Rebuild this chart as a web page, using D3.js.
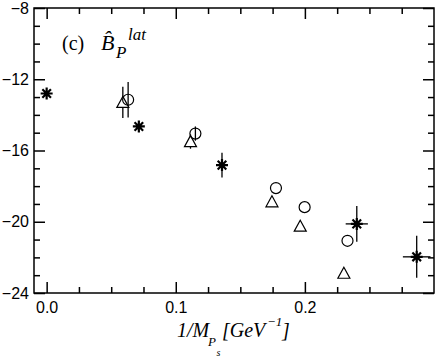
<!DOCTYPE html>
<html>
<head>
<meta charset="utf-8">
<script src="https://cdn.jsdelivr.net/npm/d3@7"></script>
<style>
  body { margin: 0; background: #fff; }
  svg { display: block; }
  .tick text { font-family: "Liberation Sans", Arial, sans-serif; font-size: 16px; fill: #000; }
  .serif { font-family: "Liberation Serif", "Times New Roman", serif; }
</style>
</head>
<body>
<div id="chart"></div>
<script>
// star series (filled asterisks)
var starX = [0.0, 0.0714, 0.1358, 0.2402, 0.2866];
var starY = [-12.8, -14.65, -16.82, -20.12, -21.97];
var starErrY = [0, 0, 0.7, 1.0, 1.18];
var starErrX = [0, 0, 0, 0.0086, 0.0107];

// open circles
var circX = [0.0631, 0.1152, 0.1776, 0.1998, 0.233];
var circY = [-13.15, -15.05, -18.11, -19.18, -21.07];
var circErr = [1.0, 0.4, 0, 0, 0];

// open triangles
var triX = [0.059, 0.1114, 0.1745, 0.1964, 0.2302];
var triY = [-13.3, -15.5, -18.88, -20.25, -22.89];
var triErr = [0.88, 0.4, 0, 0, 0];

var xMajor = [0.0, 0.1, 0.2];
var xMinor = [0.025, 0.05, 0.075, 0.125, 0.15, 0.175, 0.225, 0.25, 0.275];
var yMajor = [-8, -12, -16, -20, -24];
var yMinor = [-9, -10, -11, -13, -14, -15, -17, -18, -19, -21, -22, -23];

var W = 436, H = 359;
var margin = {top: 8, right: 2, bottom: 66, left: 34};
var width = W - margin.left - margin.right,
    height = H - margin.top - margin.bottom;

var svg = d3.select("#chart").append("svg")
    .attr("width", W).attr("height", H);
var g = svg.append("g")
    .attr("transform", "translate(" + margin.left + "," + margin.top + ")");

var x = d3.scaleLinear().domain([-0.0098, 0.3]).range([0, width]);
var y = d3.scaleLinear().domain([-24, -8]).range([height, 0]);

function styleAxis(sel) {
    sel.select(".domain").remove();
    sel.selectAll("line").attr("stroke", "#000").attr("stroke-width", 1.5);
}

// bottom
g.append("g").attr("transform", "translate(0," + height + ")")
    .call(d3.axisBottom(x).tickValues(xMajor).tickSize(-11).tickPadding(9).tickFormat(d3.format(".1f")))
    .call(styleAxis);
g.append("g").attr("transform", "translate(0," + height + ")")
    .call(d3.axisBottom(x).tickValues(xMinor).tickSize(-6).tickFormat(""))
    .call(styleAxis);
// top
g.append("g")
    .call(d3.axisTop(x).tickValues(xMajor).tickSize(-11).tickFormat(""))
    .call(styleAxis);
g.append("g")
    .call(d3.axisTop(x).tickValues(xMinor).tickSize(-6).tickFormat(""))
    .call(styleAxis);
// left
g.append("g")
    .call(d3.axisLeft(y).tickValues(yMajor).tickSize(-11).tickPadding(5).tickFormat(d3.format("d")))
    .call(styleAxis);
g.append("g")
    .call(d3.axisLeft(y).tickValues(yMinor).tickSize(-6).tickFormat(""))
    .call(styleAxis);
// right
g.append("g").attr("transform", "translate(" + width + ",0)")
    .call(d3.axisRight(y).tickValues(yMajor).tickSize(-11).tickFormat(""))
    .call(styleAxis);
g.append("g").attr("transform", "translate(" + width + ",0)")
    .call(d3.axisRight(y).tickValues(yMinor).tickSize(-6).tickFormat(""))
    .call(styleAxis);

// frame
g.append("rect")
    .attr("x", 0).attr("y", 0).attr("width", width).attr("height", height)
    .attr("fill", "none").attr("stroke", "#000").attr("stroke-width", 1.5);

function errBars(xs, ys, ey, ex) {
    var bars = g.append("g").attr("stroke", "#000").attr("stroke-width", 1.3);
    xs.forEach(function(xv, i) {
        if (ey[i] > 0) {
            bars.append("line")
                .attr("x1", x(xv)).attr("x2", x(xv))
                .attr("y1", y(ys[i] - ey[i])).attr("y2", y(ys[i] + ey[i]));
        }
        if (ex && ex[i] > 0) {
            bars.append("line")
                .attr("x1", x(xv - ex[i])).attr("x2", x(xv + ex[i]))
                .attr("y1", y(ys[i])).attr("y2", y(ys[i]));
        }
    });
}

errBars(triX, triY, triErr);
errBars(circX, circY, circErr);
errBars(starX, starY, starErrY, starErrX);

// triangles
var tri = "M0,-6.5L6,4.5L-6,4.5Z";
g.append("g").selectAll("path").data(triX).enter().append("path")
    .attr("d", tri)
    .attr("transform", function(d, i) { return "translate(" + x(d) + "," + (y(triY[i]) + 0.5) + ")"; })
    .attr("fill", "#fff").attr("stroke", "#000").attr("stroke-width", 1.2);

// circles
g.append("g").selectAll("circle").data(circX).enter().append("circle")
    .attr("cx", function(d) { return x(d); })
    .attr("cy", function(d, i) { return y(circY[i]); })
    .attr("r", 5.5)
    .attr("fill", "none").attr("stroke", "#000").attr("stroke-width", 1.2);

// stars
var star = "M-6,0L6,0M0,-6L0,6M-4.3,-4.3L4.3,4.3M-4.3,4.3L4.3,-4.3";
g.append("g").selectAll("path").data(starX).enter().append("path")
    .attr("d", star)
    .attr("transform", function(d, i) { return "translate(" + x(d) + "," + y(starY[i]) + ")"; })
    .attr("stroke", "#000").attr("stroke-width", 2.2).attr("fill", "none");
g.append("g").selectAll("circle").data(starX).enter().append("circle")
    .attr("cx", function(d) { return x(d); })
    .attr("cy", function(d, i) { return y(starY[i]); })
    .attr("r", 2.5).attr("fill", "#000");

// panel title
var t = svg.append("text").attr("class", "serif").attr("fill", "#000");
t.append("tspan").attr("x", 62).attr("y", 50).attr("font-size", 20).text("(c)");
t.append("tspan").attr("x", 101).attr("y", 50).attr("font-size", 22).attr("font-style", "italic").text("B\u0302");
t.append("tspan").attr("x", 116).attr("y", 58).attr("font-size", 17).attr("font-style", "italic").text("P");
t.append("tspan").attr("x", 128).attr("y", 40).attr("font-size", 17).attr("font-style", "italic").text("lat");

// x axis label
var xl = svg.append("text").attr("class", "serif").attr("fill", "#000").attr("font-style", "italic");
xl.append("tspan").attr("x", 177).attr("y", 337).attr("font-size", 20).text("1/M");
xl.append("tspan").attr("x", 208).attr("y", 346).attr("font-size", 13).text("P");
xl.append("tspan").attr("x", 216.5).attr("y", 356).attr("font-size", 10).text("s");
xl.append("tspan").attr("x", 222).attr("y", 337).attr("font-size", 20).text("[GeV");
xl.append("tspan").attr("x", 267).attr("y", 326).attr("font-size", 13).text("−1");
xl.append("tspan").attr("x", 282).attr("y", 337).attr("font-size", 20).text("]");
</script>
</body>
</html>
